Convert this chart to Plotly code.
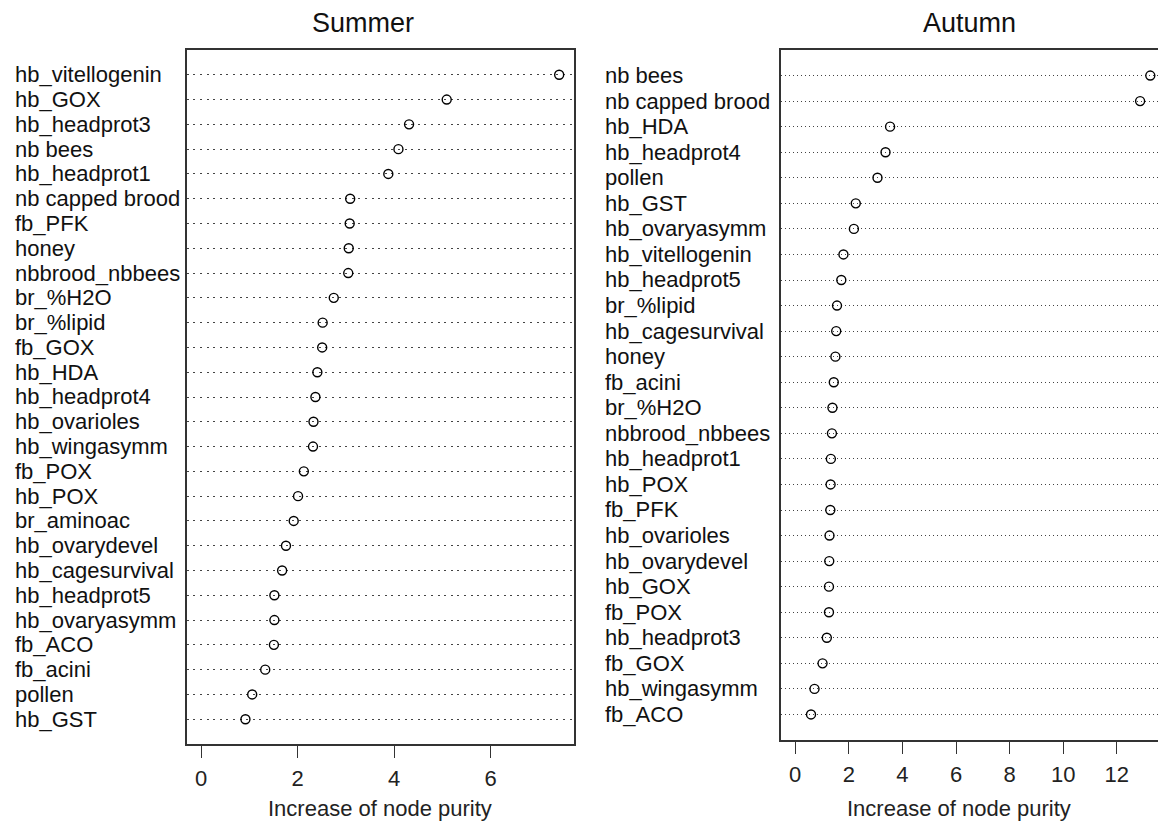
import plotly.graph_objects as go

W, H = 1158, 821

summer_vars = ["hb_vitellogenin", "hb_GOX", "hb_headprot3", "nb bees", "hb_headprot1",
               "nb capped brood", "fb_PFK", "honey", "nbbrood_nbbees", "br_%H2O",
               "br_%lipid", "fb_GOX", "hb_HDA", "hb_headprot4", "hb_ovarioles",
               "hb_wingasymm", "fb_POX", "hb_POX", "br_aminoac", "hb_ovarydevel",
               "hb_cagesurvival", "hb_headprot5", "hb_ovaryasymm", "fb_ACO", "fb_acini",
               "pollen", "hb_GST"]
summer_vals = [7.42, 5.09, 4.31, 4.09, 3.88, 3.09, 3.08, 3.06, 3.05, 2.75,
               2.52, 2.51, 2.41, 2.37, 2.33, 2.32, 2.13, 2.01, 1.92, 1.76,
               1.68, 1.52, 1.52, 1.51, 1.33, 1.06, 0.92]

autumn_vars = ["nb bees", "nb capped brood", "hb_HDA", "hb_headprot4", "pollen",
               "hb_GST", "hb_ovaryasymm", "hb_vitellogenin", "hb_headprot5", "br_%lipid",
               "hb_cagesurvival", "honey", "fb_acini", "br_%H2O", "nbbrood_nbbees",
               "hb_headprot1", "hb_POX", "fb_PFK", "hb_ovarioles", "hb_ovarydevel",
               "hb_GOX", "fb_POX", "hb_headprot3", "fb_GOX", "hb_wingasymm", "fb_ACO"]
autumn_vals = [13.25, 12.87, 3.54, 3.37, 3.07, 2.26, 2.19, 1.80, 1.72, 1.56,
               1.53, 1.50, 1.44, 1.39, 1.37, 1.33, 1.32, 1.31, 1.28, 1.27,
               1.26, 1.26, 1.18, 1.02, 0.72, 0.59]

summer_ticks = [0, 2, 4, 6]
autumn_ticks = [0, 2, 4, 6, 8, 10, 12]
xlabel = "Increase of node purity"

FONT = "Liberation Sans, Arial, Helvetica, sans-serif"
LBL = 22
BOX = "#333333"

def px_x(p):
    return p / W

def px_y(p):
    return 1 - p / H

fig = go.Figure()

panels = [
    dict(vars=summer_vars, vals=summer_vals, ticks=summer_ticks, xa="x", ya="y",
         xdom=[px_x(186.7), px_x(573.5)], ydom=[px_y(744), px_y(50)],
         label_x=12.7, dash="2px,4.6px", mirror_y=True, clip=None,
         title="Summer", title_x=363, xlab_x=379.5),
    dict(vars=autumn_vars, vals=autumn_vals, ticks=autumn_ticks, xa="x2", ya="y2",
         xdom=[px_x(781), 1.0], ydom=[px_y(740), px_y(50)],
         label_x=603.3, dash="1.4px,2.6px", mirror_y=False, clip=1158,
         title="Autumn", title_x=969, xlab_x=958.8),
]

layout_axes = {}
annotations = []
for i, p in enumerate(panels):
    n = len(p["vars"])
    rows = [n - k for k in range(n)]
    vmax = max(p["vals"])
    lo, hi = -0.04 * vmax, 1.04 * vmax
    if p["clip"] is not None:
        # right part of this panel is cut off by the picture edge
        full_px = 1164.5 - p["xdom"][0] * W
        hi = lo + (hi - lo) * ((p["clip"] - p["xdom"][0] * W) / full_px)
    fig.add_trace(go.Scatter(
        x=p["vals"], y=rows, mode="markers", xaxis=p["xa"], yaxis=p["ya"],
        marker=dict(symbol="circle-open", size=9, color="black",
                    line=dict(width=1.4, color="black")),
        showlegend=False, hoverinfo="x+text", text=p["vars"], cliponaxis=False))
    suffix = "" if i == 0 else "2"
    layout_axes["xaxis" + suffix] = dict(
        domain=p["xdom"], range=[lo, hi], anchor=p["ya"],
        tickvals=p["ticks"], ticks="outside", ticklen=12, tickwidth=1.3,
        tickcolor=BOX, showline=True, linecolor=BOX, linewidth=1.5, mirror=True,
        showgrid=False, zeroline=False, ticklabelstandoff=2,
        tickfont=dict(family=FONT, size=LBL, color="#222"))
    layout_axes["yaxis" + suffix] = dict(
        domain=p["ydom"], range=[0, n + 1], anchor=p["xa"],
        tickvals=rows, showticklabels=False, ticks="",
        showgrid=True, gridcolor="#444444", gridwidth=1, griddash=p["dash"],
        showline=True, linecolor=BOX, linewidth=1.5, mirror=p["mirror_y"],
        zeroline=False)
    for name, r in zip(p["vars"], rows):
        annotations.append(dict(
            text=name, x=px_x(p["label_x"]), xref="paper", y=r, yref=p["ya"],
            xanchor="left", yanchor="middle", showarrow=False,
            font=dict(family=FONT, size=LBL, color="#111")))
    annotations.append(dict(
        text=p["title"], x=px_x(p["title_x"]), xref="paper", y=px_y(22.5), yref="paper",
        xanchor="center", yanchor="middle", showarrow=False,
        font=dict(family=FONT, size=27, color="#111")))
    annotations.append(dict(
        text=xlabel, x=px_x(p["xlab_x"]), xref="paper", y=px_y(808), yref="paper",
        xanchor="center", yanchor="middle", showarrow=False,
        font=dict(family=FONT, size=LBL, color="#222")))

fig.update_layout(
    width=W, height=H, margin=dict(l=0, r=0, t=0, b=0),
    paper_bgcolor="white", plot_bgcolor="white",
    annotations=annotations, **layout_axes)

fig.write_html("out.html",
               config={"displayModeBar": False},
               post_script="document.body.style.margin='0';document.body.style.overflow='hidden';")
